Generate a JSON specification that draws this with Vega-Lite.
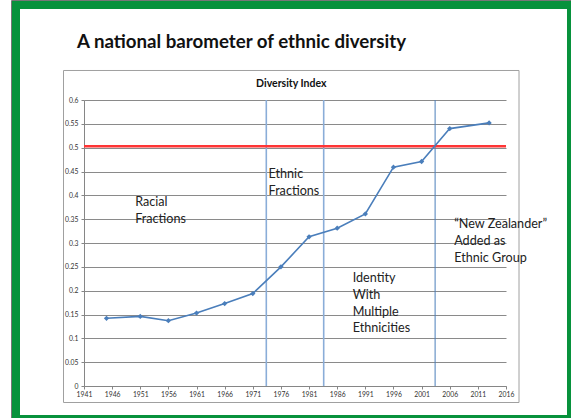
{
  "$schema": "https://vega.github.io/schema/vega-lite/v6.json",
  "width": 422,
  "height": 286,
  "autosize": {"type": "none"},
  "padding": {"left": 84, "top": 100, "right": 65, "bottom": 32},
  "background": "white",
  "config": {"view": {"stroke": null}, "font": "Lato"},
  "datasets": {
    "diversity": [
      {"year": 1945, "index": 0.142},
      {"year": 1951, "index": 0.146},
      {"year": 1956, "index": 0.137},
      {"year": 1961, "index": 0.153},
      {"year": 1966, "index": 0.173},
      {"year": 1971, "index": 0.194},
      {"year": 1976, "index": 0.250},
      {"year": 1981, "index": 0.313},
      {"year": 1986, "index": 0.331},
      {"year": 1991, "index": 0.361},
      {"year": 1996, "index": 0.459},
      {"year": 2001, "index": 0.471},
      {"year": 2006, "index": 0.540},
      {"year": 2013, "index": 0.552}
    ],
    "eras": [
      {"year": 1973.4, "kind": "classification"},
      {"year": 1983.6, "kind": "classification"},
      {"year": 2003.4, "kind": "new zealander"}
    ],
    "threshold": [{"index": 0.503}],
    "notes": [
      {"label": ["Racial", "Fractions"], "year": 1950.1, "index": 0.3776},
      {"label": ["Ethnic", "Fractions"], "year": 1973.8, "index": 0.4357},
      {"label": ["Identity", "With", "Multiple", "Ethnicities"], "year": 1988.75, "index": 0.2176},
      {"label": ["“New Zealander”", "Added as", "Ethnic Group"], "year": 2006.8, "index": 0.3308}
    ]
  },
  "layer": [
    {
      "data": {"values": [{}]},
      "mark": {"type": "rect", "fill": "white", "fillOpacity": 0, "stroke": "#777777", "strokeWidth": 1},
      "encoding": {
        "x": {"datum": 1928.115, "type": "quantitative"},
        "x2": {"datum": 2028.26},
        "y": {"datum": 0.80874, "type": "quantitative"},
        "y2": {"datum": -0.0818}
      }
    },
    {
      "data": {"values": [{}]},
      "mark": {"type": "rect", "fill": "white", "fillOpacity": 0, "stroke": "#07923c", "strokeWidth": 8},
      "encoding": {
        "x": {"datum": 1928.915, "type": "quantitative"},
        "x2": {"datum": 2027.552},
        "y": {"datum": 0.7993, "type": "quantitative"},
        "y2": {"datum": -0.06923}
      }
    },
    {
      "data": {"values": [{}]},
      "mark": {"type": "rect", "fill": "white", "fillOpacity": 0, "stroke": "#a0a0a0", "strokeWidth": 1},
      "encoding": {
        "x": {"datum": 1937.357, "type": "quantitative"},
        "x2": {"datum": 2018.311},
        "y": {"datum": 0.66189, "type": "quantitative"},
        "y2": {"datum": -0.03462}
      }
    },
    {
      "data": {"name": "diversity"},
      "mark": {"type": "line", "opacity": 0},
      "encoding": {
        "x": {
          "field": "year", "type": "quantitative",
          "scale": {"domain": [1941, 2016], "nice": false, "zero": false},
          "axis": {
            "title": null,
            "values": [1941, 1946, 1951, 1956, 1961, 1966, 1971, 1976, 1981, 1986, 1991, 1996, 2001, 2006, 2011, 2016],
            "tickCount": 100,
            "format": "d", "labelFontSize": 6.8, "labelColor": "#333333", "labelAngle": 0,
            "labelFlush": false, "labelOverlap": false, "labelPadding": 2,
            "grid": false, "domainColor": "#868686", "tickColor": "#868686", "tickSize": 3
          }
        },
        "y": {
          "field": "index", "type": "quantitative",
          "scale": {"domain": [0, 0.6], "nice": false, "zero": true},
          "axis": {
            "title": null,
            "values": [0, 0.05, 0.1, 0.15, 0.2, 0.25, 0.3, 0.35, 0.4, 0.45, 0.5, 0.55, 0.6],
            "tickCount": 100,
            "format": "~g", "labelFontSize": 6.8, "labelColor": "#333333", "labelPadding": 3,
            "labelFlush": false, "labelOverlap": false,
            "grid": true, "gridColor": "#8a8a8a", "gridWidth": 1,
            "domainColor": "#868686", "tickColor": "#868686", "tickSize": 3
          }
        }
      }
    },
    {
      "data": {"name": "eras"},
      "mark": {"type": "rule"},
      "encoding": {
        "x": {"field": "year", "type": "quantitative"},
        "color": {"field": "kind", "type": "nominal", "scale": {"domain": ["classification", "new zealander"], "range": ["#8aadd8", "#4a7ebb"]}, "legend": null},
        "strokeWidth": {"field": "kind", "type": "nominal", "scale": {"domain": ["classification", "new zealander"], "range": [1.6, 1]}, "legend": null}
      }
    },
    {
      "data": {"name": "threshold"},
      "mark": {"type": "rule", "color": "#ff3535", "strokeWidth": 2.5},
      "encoding": {"y": {"field": "index", "type": "quantitative"}}
    },
    {
      "data": {"name": "diversity"},
      "mark": {"type": "line", "color": "#4a7ebb", "strokeWidth": 1.6,
               "point": {"shape": "diamond", "filled": true, "size": 28, "color": "#4a7ebb"}},
      "encoding": {
        "x": {"field": "year", "type": "quantitative"},
        "y": {"field": "index", "type": "quantitative"}
      }
    },
    {
      "data": {"name": "notes"},
      "mark": {"type": "text", "align": "left", "baseline": "alphabetic", "fontSize": 12.6, "lineHeight": 16.7, "color": "#222222"},
      "encoding": {
        "x": {"field": "year", "type": "quantitative"},
        "y": {"field": "index", "type": "quantitative"},
        "text": {"field": "label"}
      }
    },
    {
      "data": {"values": [{}]},
      "mark": {"type": "text", "align": "left", "baseline": "alphabetic", "fontSize": 18.7, "fontWeight": "bold", "color": "#111111", "text": "A national barometer of ethnic diversity"},
      "encoding": {
        "x": {"datum": 1939.756, "type": "quantitative"},
        "y": {"datum": 0.7085, "type": "quantitative"}
      }
    },
    {
      "data": {"values": [{}]},
      "mark": {"type": "text", "align": "center", "baseline": "alphabetic", "fontSize": 10.5, "fontWeight": "bold", "color": "#111111", "text": "Diversity Index"},
      "encoding": {
        "x": {"datum": 1977.84, "type": "quantitative"},
        "y": {"datum": 0.6266, "type": "quantitative"}
      }
    }
  ]
}
